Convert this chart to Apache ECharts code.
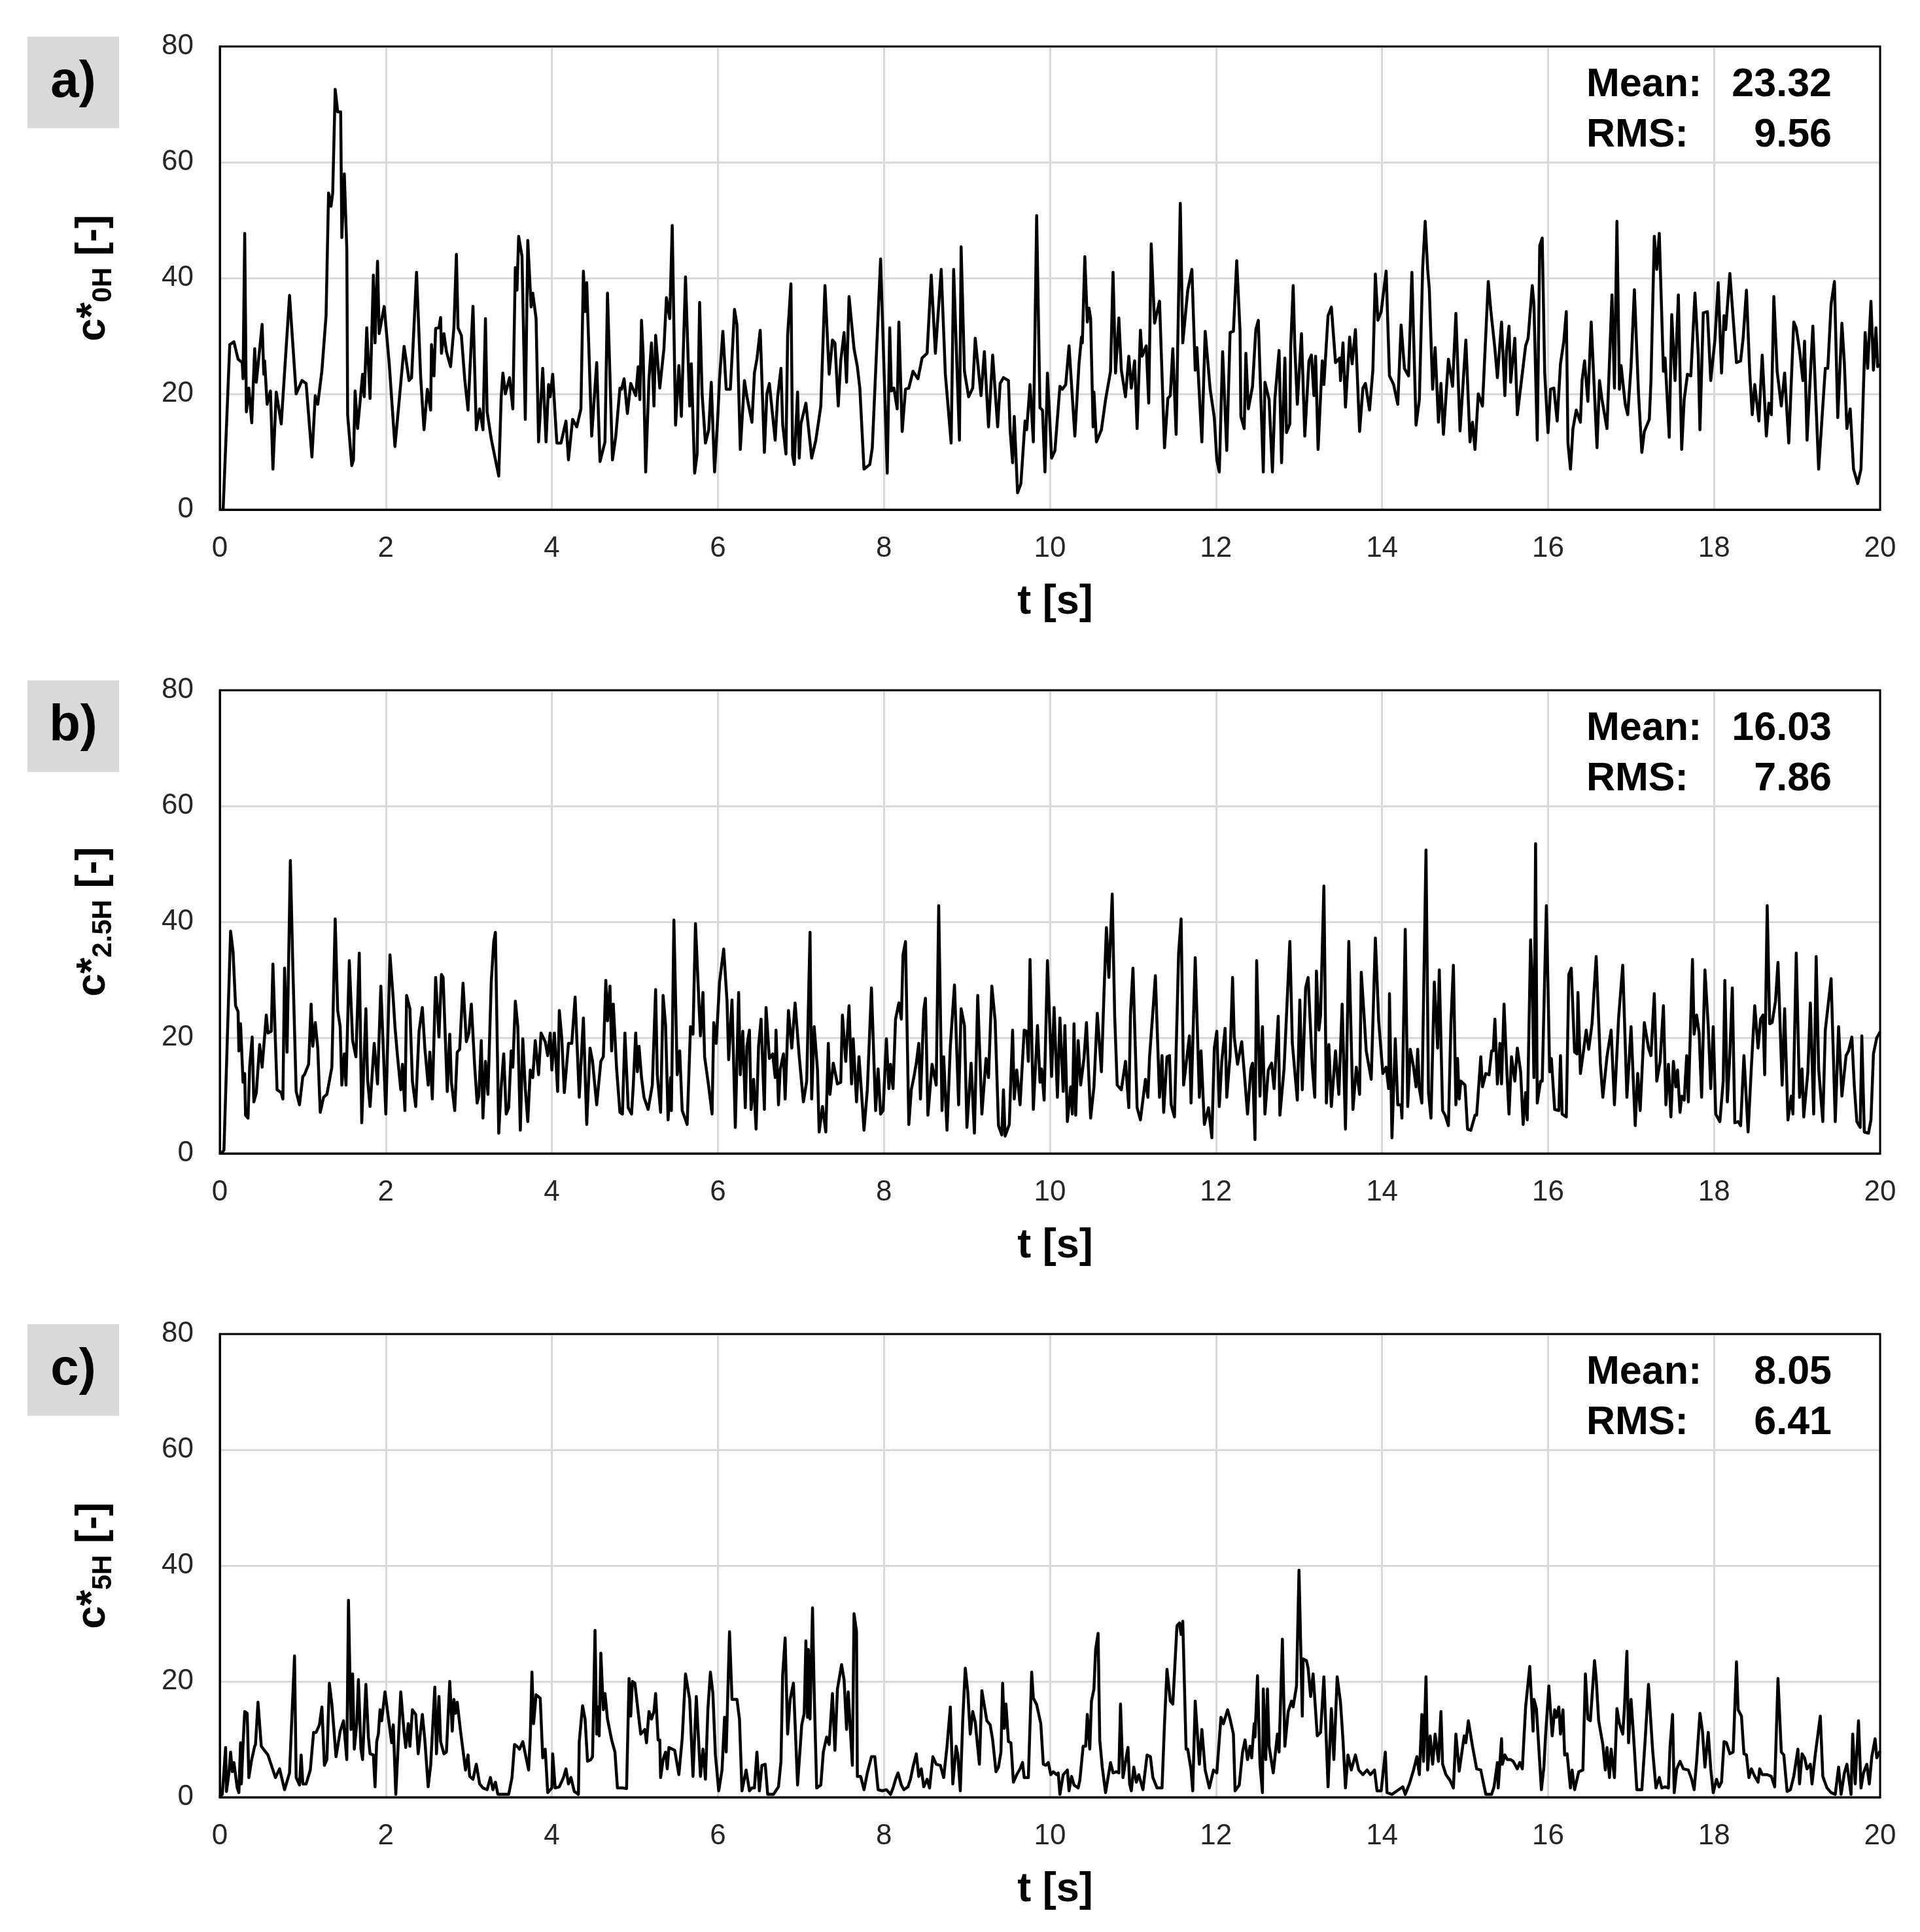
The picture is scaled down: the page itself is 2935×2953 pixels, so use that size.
<!DOCTYPE html>
<html><head><meta charset="utf-8">
<script src="https://cdn.jsdelivr.net/npm/echarts@6/dist/echarts.min.js"></script>
<style>html,body{margin:0;padding:0;background:#fff}#c{width:2935px;height:2953px}</style>
</head><body><div id="c"></div>
<script>
// ---- data: [t (s), c* (-)] ----
const pointsA = [[0,0],[0.04,0],[0.12,28.5],[0.17,29],[0.22,26],[0.27,25.4],[0.28,22.6],[0.30,47.7],[0.32,16.9],[0.35,21],[0.385,15],[0.42,27.8],[0.44,22],[0.51,32],[0.53,23.4],[0.54,25.7],[0.57,18.2],[0.61,20.5],[0.64,7],[0.68,20.3],[0.74,14.8],[0.84,37],[0.92,20],[0.99,22.3],[1.04,21.8],[1.11,9.1],[1.15,19.7],[1.18,18.2],[1.23,24],[1.28,33.5],[1.31,54.7],[1.34,52.4],[1.36,54.7],[1.39,72.6],[1.42,68.7],[1.456,68.7],[1.47,47],[1.50,58],[1.53,45],[1.54,16.4],[1.59,7.6],[1.61,8.6],[1.63,20.5],[1.66,14],[1.72,23.4],[1.74,19.5],[1.77,31.4],[1.81,19.2],[1.85,40.5],[1.87,28.8],[1.90,42.9],[1.92,30.4],[1.98,35.1],
[2.04,25.4],[2.11,10.9],[2.16,18.7],[2.22,28.2],[2.28,22.3],[2.31,22.8],[2.37,41],[2.42,22.8],[2.46,13.8],[2.50,20.8],[2.54,17.2],[2.55,28.5],[2.58,23.1],[2.60,31.3],[2.64,31.4],[2.66,33.2],[2.67,27],[2.70,30.4],[2.73,27.3],[2.78,24.7],[2.82,31.4],[2.85,44.1],[2.87,31.4],[2.91,30.1],[2.95,22.6],[2.99,17.2],[3.05,35.1],[3.09,13.8],[3.13,17.4],[3.17,13.8],[3.20,33],[3.22,16.9],[3.27,12.2],[3.36,5.8],[3.39,19.5],[3.41,23.6],[3.44,20],[3.49,22.8],[3.53,17.4],[3.56,41.8],[3.58,37.9],[3.60,47.2],[3.64,43.8],[3.68,15.6],[3.71,46.5],[3.75,35],[3.77,37.4],[3.81,33],[3.84,11.7],[3.89,24.4],[3.93,11.7],[3.96,21.6],[3.98,19.5],
[4.01,23.4],[4.06,11.5],[4.11,11.5],[4.17,15.3],[4.20,8.6],[4.25,15.6],[4.30,14.3],[4.35,17.4],[4.38,41.2],[4.40,34.2],[4.42,39.2],[4.48,12.7],[4.54,25.4],[4.58,8.3],[4.64,11.7],[4.67,37.4],[4.73,8.6],[4.77,12.7],[4.82,21],[4.84,20.8],[4.87,22.6],[4.91,16.6],[4.95,21.8],[5.01,19.7],[5.04,24.7],[5.06,19],[5.08,32.7],[5.10,26.7],[5.13,6.5],[5.17,22.6],[5.20,28.8],[5.23,17.9],[5.25,30.1],[5.30,21],[5.35,27.8],[5.38,36.6],[5.42,33],[5.45,49.1],[5.49,14.6],[5.53,24.9],[5.56,16.1],[5.61,40.2],[5.66,17.9],[5.68,25.2],[5.72,6.3],[5.75,9.6],[5.78,35.8],[5.81,20],[5.85,11.5],[5.89,13.8],[5.92,22],[5.96,6.5],
[6.00,16.4],[6.02,22.6],[6.06,30.8],[6.10,20.8],[6.15,20.8],[6.20,34.6],[6.23,31.9],[6.27,10.4],[6.32,22.3],[6.35,19.5],[6.41,15.1],[6.44,23.6],[6.47,26],[6.51,31],[6.56,9.9],[6.59,20],[6.62,21.8],[6.69,12],[6.72,19.5],[6.76,24.4],[6.78,14.8],[6.82,9.6],[6.84,30.1],[6.88,39],[6.90,9.4],[6.92,7.8],[6.96,20.3],[6.98,8.9],[7.00,14.8],[7.06,18.4],[7.13,8.9],[7.18,12],[7.24,17.9],[7.29,38.7],[7.34,23.4],[7.38,29.3],[7.41,28.8],[7.45,17.9],[7.48,25.7],[7.52,30.6],[7.55,22],[7.58,36.8],[7.64,27.8],[7.68,24.7],[7.71,21],[7.76,7],[7.83,7.8],[7.86,10.7],[7.96,43.3],
[8.04,6.3],[8.07,31.4],[8.09,20.5],[8.12,21],[8.16,17.4],[8.18,32.4],[8.22,13.5],[8.26,20.8],[8.30,21],[8.35,23.9],[8.41,22.6],[8.46,26.2],[8.52,27],[8.57,40.5],[8.62,27],[8.69,41.5],[8.74,23.4],[8.81,11.5],[8.84,41.5],[8.91,12],[8.93,45.4],[8.97,23.9],[9.02,19.5],[9.07,21],[9.10,29.6],[9.17,19.7],[9.21,27.3],[9.26,14.3],[9.31,26.7],[9.37,14.3],[9.40,21.8],[9.44,22.8],[9.50,22.3],[9.52,13.8],[9.55,8.1],[9.57,16.1],[9.61,2.9],[9.65,4.5],[9.70,15.3],[9.72,13.8],[9.76,21.6],[9.80,11.7],[9.84,50.8],[9.88,17.6],[9.91,17.2],[9.94,6.5],[9.97,23.6],
[10.02,8.9],[10.06,10.2],[10.12,21.3],[10.15,20.8],[10.19,21.6],[10.23,28.3],[10.30,12.7],[10.35,25.2],[10.38,29.8],[10.39,28.8],[10.42,43.7],[10.45,32.4],[10.47,34.8],[10.49,33],[10.52,14.3],[10.53,20.3],[10.56,11.7],[10.62,13.8],[10.67,19],[10.73,23.9],[10.76,41],[10.79,23.6],[10.83,33.1],[10.86,24.1],[10.91,19.5],[10.95,26.5],[10.98,21],[11.02,25.7],[11.05,14],[11.09,31],[11.11,26.5],[11.16,28.3],[11.19,18.4],[11.22,45.9],[11.26,32.2],[11.32,36],[11.38,10.7],[11.42,19.2],[11.45,19.7],[11.48,27.8],[11.52,13],[11.57,52.9],[11.60,28.8],[11.66,37.9],[11.71,41.5],[11.75,24.1],[11.77,28],[11.83,11.7],[11.87,30.8],[11.93,20.8],[11.98,15.9],
[12.01,8.6],[12.04,6.5],[12.08,27.3],[12.13,10.2],[12.17,30.6],[12.21,30.8],[12.25,43],[12.29,30.8],[12.30,16.1],[12.34,14],[12.36,27],[12.39,17.4],[12.44,21.3],[12.48,31.1],[12.51,32.7],[12.57,6.5],[12.59,22],[12.64,19],[12.68,6.5],[12.71,19.2],[12.76,27.5],[12.79,8.1],[12.83,26.2],[12.85,13.3],[12.89,14.8],[12.90,28],[12.93,38.7],[12.95,28],[12.98,18.2],[13.03,30.4],[13.07,12.7],[13.12,25.7],[13.15,26.7],[13.18,19.7],[13.20,26.5],[13.23,10.4],[13.28,25.7],[13.30,21.6],[13.35,33.5],[13.39,35],[13.44,25.4],[13.49,26.2],[13.50,22.3],[13.53,28.8],[13.56,17.7],[13.61,29.8],[13.64,25.2],[13.68,31.1],[13.73,13.5],[13.77,21],[13.80,21.8],[13.85,17.2],[13.89,24.1],[13.92,40.7],[13.95,32.7],[13.99,34.2],
[14.05,41.2],[14.09,23.1],[14.14,21.6],[14.19,18.2],[14.23,31.9],[14.27,24.4],[14.32,23.1],[14.36,41],[14.41,14.6],[14.45,19],[14.49,41.8],[14.52,49.8],[14.55,41.5],[14.57,38.1],[14.61,20.8],[14.64,28],[14.68,15.1],[14.71,21.8],[14.74,13],[14.80,26],[14.85,21.3],[14.89,33.9],[14.94,13.6],[15.01,29.3],[15.06,11.7],[15.09,15.1],[15.12,10.4],[15.16,20],[15.21,17.9],[15.28,39.4],[15.31,34.5],[15.36,27.8],[15.39,22.8],[15.44,32.4],[15.48,19.7],[15.50,27.5],[15.53,31.7],[15.55,22],[15.60,29.6],[15.63,16.4],[15.68,22.3],[15.73,28.3],[15.76,29.6],[15.81,38.7],[15.83,35.5],[15.87,12],[15.90,45.6],[15.93,46.9],[15.96,23.6],
[16.00,13.3],[16.03,20.8],[16.07,21],[16.11,15.3],[16.15,25.2],[16.19,29.1],[16.22,34.2],[16.24,11.5],[16.27,7],[16.30,14],[16.34,17.2],[16.39,15.1],[16.41,22.3],[16.44,25.7],[16.48,18.7],[16.52,32.4],[16.59,10.7],[16.62,22.3],[16.65,19],[16.71,14],[16.77,37.1],[16.80,21],[16.83,49.8],[16.86,20.8],[16.88,24.9],[16.93,18.2],[16.96,16.4],[17.00,24.7],[17.04,38],[17.09,20],[17.13,9.9],[17.16,13.5],[17.22,15.6],[17.24,22.3],[17.28,47.2],[17.31,41.5],[17.34,47.7],[17.39,23.9],[17.41,26.2],[17.46,12.5],[17.49,33.7],[17.53,22.3],[17.57,37.1],[17.61,10.4],[17.64,19],[17.68,23.4],[17.72,23.1],[17.77,37.4],[17.81,26.7],[17.83,13.8],[17.87,34],[17.92,34.2],[17.96,22.3],
[18.01,29.3],[18.05,39.2],[18.09,23.6],[18.12,33.5],[18.14,31.1],[18.19,40.8],[18.27,25.4],[18.32,25.7],[18.35,29.6],[18.39,37.9],[18.43,23.6],[18.46,16.4],[18.49,21.6],[18.54,15.3],[18.58,26.7],[18.63,12.7],[18.66,18.4],[18.69,16.4],[18.72,36.8],[18.76,23.9],[18.81,17.9],[18.85,23.6],[18.90,11.5],[18.96,32.4],[18.99,31.4],[19.03,27.5],[19.07,22.3],[19.09,29.1],[19.12,12],[19.19,31.7],[19.26,7],[19.34,24.4],[19.37,24.4],[19.41,35.5],[19.45,39.4],[19.49,15.9],[19.54,32.2],[19.57,25.2],[19.60,14],[19.64,17.4],[19.68,7],[19.73,4.5],[19.77,7],[19.82,30.6],[19.85,24.4],[19.89,36],[19.92,24.1],[19.95,31.4],[19.97,24.7],[20.00,25]];

const pointsB = [[0,0],[0.02,0],[0.05,0.6],[0.13,38.4],[0.16,34.8],[0.19,25.5],[0.22,24.5],[0.23,17.7],[0.25,22.4],[0.28,12.3],[0.30,13.8],[0.31,6.6],[0.34,6.1],[0.36,15.1],[0.39,20.1],[0.41,8.9],[0.44,10.5],[0.48,18.8],[0.51,14.9],[0.56,23.9],[0.58,20.8],[0.62,21.1],[0.64,32.7],[0.67,19.3],[0.69,11],[0.74,10.5],[0.76,9.4],[0.78,32],[0.81,17.5],[0.85,50.6],[0.88,32.2],[0.92,10.7],[0.96,8.4],[1.00,13.3],[1.02,13.6],[1.07,15.4],[1.10,25.8],[1.12,18.5],[1.15,22.6],[1.18,18.2],[1.21,7.1],[1.25,9.7],[1.29,10.2],[1.35,14.9],[1.39,40.5],[1.42,24.7],[1.45,21.9],[1.47,11.8],[1.50,17.2],[1.52,11.8],[1.56,33.3],[1.60,19.5],[1.64,16.7],[1.68,34.6],[1.71,5.3],[1.76,25],[1.78,12.8],[1.81,8.1],[1.86,19],[1.90,12],[1.94,28.9],
[2.00,6.8],[2.05,34.3],[2.09,26.5],[2.11,21.9],[2.14,16.9],[2.18,11],[2.20,15.4],[2.23,7.4],[2.25,27.3],[2.29,25],[2.32,12.5],[2.36,8.1],[2.40,21.1],[2.44,25.2],[2.47,18.2],[2.51,11.8],[2.53,17.5],[2.56,9.4],[2.60,30.4],[2.64,20.1],[2.67,30.9],[2.69,30.4],[2.74,10.7],[2.77,20.6],[2.79,12.3],[2.83,7.4],[2.86,17.5],[2.89,18],[2.93,29.4],[2.97,19.3],[3.00,20.8],[3.03,25.8],[3.07,15.1],[3.10,8.7],[3.12,9.9],[3.15,19.5],[3.17,6.1],[3.20,15.9],[3.23,10.2],[3.27,29.6],[3.30,36.6],[3.32,38.2],[3.36,3.5],[3.39,11.5],[3.42,17.2],[3.45,6.8],[3.48,7.9],[3.51,17.7],[3.53,14.9],[3.56,26.3],[3.59,21.9],[3.62,4],[3.65,19.8],[3.68,11.2],[3.71,5.5],[3.74,14.4],[3.77,13.1],[3.80,19.5],[3.84,13.6],[3.87,20.8],[3.92,19.3],[3.95,16.9],[3.98,20.8],
[4.00,14.4],[4.03,20.8],[4.07,10.7],[4.09,24.7],[4.12,19.8],[4.15,10.5],[4.20,19],[4.24,19],[4.28,27],[4.33,9.7],[4.38,23.4],[4.42,5],[4.46,18.2],[4.49,15.9],[4.54,8.4],[4.59,15.9],[4.62,16.7],[4.65,29.9],[4.67,22.9],[4.70,28.9],[4.72,17.7],[4.74,25.8],[4.78,14.6],[4.82,7.1],[4.85,6.8],[4.88,20.8],[4.92,7.9],[4.96,6.8],[4.98,11.5],[5.01,20.8],[5.03,14.1],[5.05,18.5],[5.08,13.1],[5.11,9.7],[5.16,7.6],[5.21,11.8],[5.25,28.3],[5.27,13.6],[5.31,7.1],[5.34,27.3],[5.37,22.1],[5.40,5.8],[5.43,13.1],[5.44,7.4],[5.47,40.3],[5.51,13.6],[5.54,17.7],[5.57,7.4],[5.63,5],[5.67,21.9],[5.70,20.6],[5.73,39.7],[5.77,26.5],[5.79,20.3],[5.82,27.8],[5.84,16.7],[5.89,11.5],[5.93,6.8],[5.95,22.6],[5.98,19],
[6.02,29.6],[6.07,35.3],[6.11,26.3],[6.13,16.2],[6.17,26.5],[6.21,4.5],[6.25,27.8],[6.27,13.6],[6.30,21.1],[6.33,7.9],[6.35,18.5],[6.38,21.3],[6.40,7.6],[6.43,12.8],[6.46,4.2],[6.49,18.5],[6.52,23.2],[6.56,7.6],[6.58,25.2],[6.62,16.4],[6.66,17.2],[6.69,13.1],[6.70,21.3],[6.73,8.4],[6.75,14.4],[6.79,17.2],[6.81,9.4],[6.85,24.7],[6.89,18.2],[6.93,26],[6.98,16.7],[7.03,8.9],[7.07,12.5],[7.11,38.2],[7.13,9.4],[7.16,21.9],[7.20,14.4],[7.22,3.7],[7.26,8.1],[7.30,3.7],[7.33,19],[7.35,10.2],[7.39,15.6],[7.44,12],[7.48,12.3],[7.50,23.9],[7.54,15.9],[7.58,25.5],[7.61,12],[7.63,19.8],[7.67,8.9],[7.70,16.7],[7.74,8.4],[7.76,4],[7.80,11],[7.85,28.6],[7.90,7.4],[7.93,14.6],[7.96,6.8],[7.99,7.4],
[8.03,19.8],[8.06,11.2],[8.08,15.4],[8.11,11.2],[8.14,23.2],[8.18,26],[8.21,23.2],[8.23,34.3],[8.26,36.6],[8.30,5],[8.33,11],[8.36,13.1],[8.39,15.6],[8.42,19],[8.44,9.4],[8.48,24.7],[8.50,26.8],[8.53,6.6],[8.58,15.4],[8.63,11.8],[8.66,42.8],[8.70,7.4],[8.72,16.7],[8.76,4],[8.80,18.5],[8.85,29.1],[8.90,8.4],[8.93,25],[8.97,22.1],[9.00,4.5],[9.05,15.6],[9.09,3.5],[9.13,27.3],[9.18,6.8],[9.23,16.4],[9.26,13.1],[9.30,28.9],[9.34,22.9],[9.38,4.8],[9.42,3.2],[9.44,11],[9.46,3],[9.51,5],[9.55,21.3],[9.57,9.4],[9.60,14.4],[9.64,8.4],[9.69,21.3],[9.72,21.1],[9.74,15.9],[9.76,33.5],[9.80,7.6],[9.85,22.1],[9.88,12.3],[9.90,14.6],[9.93,9.2],[9.97,33.3],
[10.02,13.3],[10.05,25.2],[10.09,9.7],[10.12,23.4],[10.16,10.7],[10.18,22.1],[10.21,5.5],[10.25,11.5],[10.27,6.8],[10.29,22.4],[10.31,6.6],[10.34,19.5],[10.37,11.8],[10.41,16.4],[10.44,22.6],[10.49,6.1],[10.53,11.5],[10.57,24.2],[10.62,14.1],[10.65,27.3],[10.68,39],[10.71,30.4],[10.75,44.8],[10.78,23.7],[10.81,11.8],[10.86,11],[10.91,15.9],[10.95,7.9],[10.97,23.9],[11.00,32],[11.05,7.9],[11.09,5.8],[11.15,12.8],[11.18,9.7],[11.20,16.7],[11.24,24.5],[11.27,30.7],[11.32,9.7],[11.35,16.9],[11.37,7.1],[11.41,16.7],[11.44,16.9],[11.46,8.4],[11.50,6.3],[11.55,34.6],[11.58,40.5],[11.61,11.8],[11.64,15.4],[11.68,20.3],[11.70,8.7],[11.75,33.8],[11.80,9.7],[11.82,17.7],[11.86,5],[11.91,7.9],[11.95,2.7],[11.98,18.2],
[12.01,21.1],[12.04,8.1],[12.07,15.9],[12.11,21.6],[12.13,9.7],[12.17,16.9],[12.20,30.4],[12.22,20.1],[12.26,15.4],[12.31,19.3],[12.34,14.1],[12.38,6.8],[12.42,14.6],[12.44,15.6],[12.47,2.4],[12.49,33.3],[12.53,9.9],[12.56,21.9],[12.59,6.8],[12.63,14.4],[12.67,15.6],[12.70,11.2],[12.75,23.7],[12.77,6.6],[12.82,14.6],[12.89,36.6],[12.92,19],[12.98,9.2],[13.01,26.5],[13.04,11],[13.08,28.6],[13.11,30.4],[13.16,15.1],[13.19,9.7],[13.21,31.5],[13.24,21.3],[13.26,23.9],[13.30,46.2],[13.33,8.7],[13.36,18.8],[13.39,8.1],[13.44,17.7],[13.48,10.2],[13.52,25.8],[13.56,4.2],[13.60,36.6],[13.65,7.6],[13.69,14.9],[13.73,10.2],[13.75,31.3],[13.78,24.7],[13.81,17.7],[13.87,12.8],[13.92,37.2],[13.96,22.9],
[14.01,13.8],[14.05,14.9],[14.08,11.2],[14.09,27.6],[14.12,2.7],[14.16,19.8],[14.19,8.4],[14.23,8.4],[14.24,6.1],[14.28,38.7],[14.31,8.1],[14.34,18],[14.38,14.9],[14.41,11.5],[14.43,18],[14.45,11.2],[14.48,8.7],[14.53,52.4],[14.56,10.5],[14.59,6.1],[14.63,29.6],[14.67,18.2],[14.69,31.7],[14.73,7.4],[14.76,6.6],[14.80,4.8],[14.83,22.4],[14.86,32.5],[14.89,8.4],[14.91,16.4],[14.93,9.4],[14.95,12.5],[15.00,11.8],[15.03,4.2],[15.07,4],[15.12,6.6],[15.14,6.6],[15.19,16.7],[15.21,11.5],[15.25,13.8],[15.29,13.6],[15.32,17.7],[15.34,17.7],[15.36,23.2],[15.39,12],[15.42,19],[15.44,12],[15.47,25.8],[15.50,15.4],[15.53,6.8],[15.56,16.7],[15.60,12.5],[15.63,18.2],[15.67,14.1],[15.70,5],[15.73,10.5],[15.75,5.8],[15.79,36.9],[15.81,29.6],[15.83,13.1],[15.85,53.5],[15.87,8.7],[15.91,12.5],[15.93,12.5],[15.98,42.8],
[16.02,14.1],[16.04,16.4],[16.08,7.6],[16.13,7.4],[16.15,16.9],[16.17,6.8],[16.22,6.3],[16.25,30.9],[16.28,32],[16.32,17.5],[16.35,17.2],[16.36,27.8],[16.39,13.8],[16.43,18],[16.46,21.3],[16.49,18],[16.53,22.4],[16.58,34],[16.63,15.6],[16.66,9.7],[16.71,16.7],[16.76,21.3],[16.80,8.4],[16.85,23.4],[16.90,32.5],[16.95,9.7],[16.97,14.4],[17.00,21.9],[17.05,4.8],[17.08,13.8],[17.11,7.4],[17.16,22.6],[17.21,18.2],[17.24,16.9],[17.28,27.6],[17.31,12.5],[17.35,15.9],[17.39,25.5],[17.42,8.4],[17.45,15.4],[17.48,6.3],[17.51,15.9],[17.54,11.5],[17.56,14.4],[17.59,7.1],[17.61,9.9],[17.64,9.2],[17.67,16.9],[17.69,8.9],[17.74,33.5],[17.76,20.6],[17.79,23.9],[17.82,20.8],[17.85,9.7],[17.89,31.7],[17.93,21.9],[17.96,11.2],[17.99,21.9],
[18.02,6.8],[18.07,5.5],[18.11,12.5],[18.13,29.9],[18.16,8.9],[18.19,17.2],[18.22,28.6],[18.25,5.3],[18.29,5.5],[18.32,4.8],[18.36,16.9],[18.41,3.7],[18.45,15.1],[18.49,25.5],[18.53,18.2],[18.56,23.2],[18.59,23.9],[18.61,13.6],[18.64,42.8],[18.67,22.4],[18.70,22.6],[18.74,26.3],[18.77,33],[18.82,11.8],[18.85,25],[18.89,5.8],[18.93,9.9],[18.95,6.8],[18.99,34.6],[19.03,9.7],[19.06,14.6],[19.08,6.3],[19.13,14.1],[19.16,26],[19.20,6.8],[19.23,34],[19.26,14.6],[19.31,5.5],[19.34,21.3],[19.41,30.2],[19.46,5.5],[19.50,21.9],[19.54,9.9],[19.59,16.9],[19.62,17.7],[19.66,20.1],[19.69,11.5],[19.72,5.5],[19.76,4.5],[19.78,20.3],[19.81,3.7],[19.86,3.5],[19.89,5.8],[19.92,17.2],[19.96,20],[20.00,21]];

const pointsC = [[0,0],[0.03,0.5],[0.07,8.6],[0.08,1],[0.11,4.2],[0.13,7.8],[0.15,4.4],[0.17,6],[0.21,1.6],[0.23,0.8],[0.25,9.4],[0.26,2.3],[0.28,9.1],[0.30,14.8],[0.33,14.5],[0.35,3.4],[0.38,6.2],[0.42,8.8],[0.43,9.1],[0.46,16.4],[0.50,8.8],[0.58,7.3],[0.67,3.4],[0.72,4.9],[0.78,1.3],[0.84,4.2],[0.90,24.4],[0.92,3.4],[0.96,2.1],[0.98,7.3],[1.00,2.3],[1.04,2.3],[1.09,4.7],[1.13,11.2],[1.16,11.2],[1.20,12.5],[1.23,15.6],[1.26,5.5],[1.29,6.5],[1.32,19.7],[1.35,16.1],[1.40,7],[1.45,11.4],[1.49,13.2],[1.53,6.5],[1.55,34],[1.58,11.7],[1.60,21.3],[1.62,8.3],[1.65,12.7],[1.67,20.3],[1.70,8.3],[1.72,6.5],[1.76,19.5],[1.79,10.4],[1.81,7.5],[1.85,7.3],[1.87,1.8],[1.89,9.6],[1.91,10.9],[1.93,15.1],[1.95,13.2],[1.99,18.2],
[2.04,12.7],[2.07,9.4],[2.09,12.5],[2.12,0.5],[2.18,18.2],[2.22,11.2],[2.24,8.6],[2.27,12.7],[2.29,8.8],[2.32,15.1],[2.36,14.3],[2.39,7.5],[2.44,14.3],[2.47,9.9],[2.51,1.8],[2.54,5.5],[2.59,19],[2.61,7.5],[2.64,17.4],[2.66,9.6],[2.70,7.5],[2.73,7.8],[2.77,20],[2.80,11.4],[2.82,16.9],[2.84,14.5],[2.86,16.4],[2.90,11.4],[2.96,4.7],[2.99,7.3],[3.01,3.6],[3.05,3.1],[3.09,5.7],[3.13,2.3],[3.17,1.6],[3.22,1.3],[3.26,3.4],[3.29,1.3],[3.32,2.6],[3.35,0.5],[3.42,0.5],[3.48,0.5],[3.52,3.4],[3.55,9.1],[3.58,8.8],[3.61,8.3],[3.65,9.6],[3.68,7.5],[3.72,4.7],[3.74,10.4],[3.76,21.6],[3.78,12.7],[3.81,17.7],[3.86,17.1],[3.89,6.8],[3.92,8.3],[3.95,0.8],
[4.00,1.6],[4.01,7.5],[4.04,1.6],[4.09,1.8],[4.14,3.4],[4.17,4.9],[4.20,2.3],[4.23,3.4],[4.27,1],[4.32,0.5],[4.33,9.6],[4.37,15.8],[4.40,13.5],[4.43,6.2],[4.47,6.5],[4.49,7],[4.52,28.8],[4.54,10.9],[4.56,15.6],[4.57,10.6],[4.59,24.9],[4.62,15.1],[4.64,17.9],[4.67,13.5],[4.72,9.9],[4.76,7.8],[4.79,1.6],[4.85,1.6],[4.90,1.5],[4.93,20.5],[4.95,14],[4.97,20],[5.00,19.7],[5.07,10.9],[5.12,11.7],[5.14,9.4],[5.17,14.8],[5.20,13.5],[5.23,14.8],[5.25,17.9],[5.28,9.9],[5.30,9.9],[5.31,3.4],[5.34,6.5],[5.37,7.8],[5.39,4.9],[5.41,8.6],[5.48,8.1],[5.53,3.9],[5.57,10.1],[5.61,21.3],[5.66,16.9],[5.70,3.6],[5.74,17.4],[5.79,3.6],[5.82,8.3],[5.85,3.1],[5.88,15.3],[5.91,21.6],[5.94,17.9],[5.97,7.3],
[6.01,1.1],[6.05,4.7],[6.08,13.8],[6.10,7.8],[6.14,28.6],[6.17,16.9],[6.23,16.9],[6.26,13.5],[6.29,1.1],[6.34,4.7],[6.38,1.1],[6.41,1.6],[6.44,1.6],[6.47,7.8],[6.50,1.1],[6.53,5.5],[6.57,5.7],[6.60,0.5],[6.67,0.5],[6.73,1.8],[6.76,6.2],[6.78,21],[6.81,27.5],[6.84,10.9],[6.87,16.9],[6.91,19.7],[6.96,2.1],[7.01,12.5],[7.04,14.5],[7.06,27],[7.08,13.8],[7.09,25.5],[7.11,13.5],[7.14,32.7],[7.16,18.2],[7.19,1.6],[7.24,2.1],[7.27,7.8],[7.31,10.4],[7.34,9.1],[7.38,17.9],[7.41,8.1],[7.44,18.7],[7.49,22.9],[7.52,20.3],[7.55,11.7],[7.57,18.2],[7.62,5.5],[7.64,31.7],[7.67,28.6],[7.68,3.6],[7.72,3.6],[7.76,1.3],[7.80,4.2],[7.85,7],[7.89,7],[7.93,1.3],[7.98,1.1],
[8.03,1.3],[8.08,0.5],[8.11,1.6],[8.14,3.1],[8.17,4.2],[8.21,2.1],[8.24,1.3],[8.29,1.8],[8.32,3.1],[8.35,5.2],[8.39,7.5],[8.42,3.6],[8.45,4.9],[8.48,1.8],[8.52,3.1],[8.55,1.6],[8.59,7],[8.63,5.7],[8.68,5.5],[8.72,3.4],[8.76,8.8],[8.80,15.6],[8.83,2.3],[8.87,8.8],[8.89,7.3],[8.92,1.1],[8.95,13.5],[8.98,22.3],[9.01,18.2],[9.04,10.9],[9.07,14.8],[9.10,13],[9.15,5.7],[9.18,18.4],[9.24,13.2],[9.28,12.5],[9.31,9.9],[9.35,4.4],[9.38,5.2],[9.41,7.8],[9.43,19.7],[9.45,11.9],[9.47,16.1],[9.50,9.6],[9.53,9.4],[9.56,2.6],[9.60,3.9],[9.64,4.9],[9.67,6],[9.69,3.4],[9.74,3.4],[9.78,21.6],[9.80,17.1],[9.84,16],[9.89,12.7],[9.92,5.7],[9.95,5.5],[9.98,6],
[10.01,3.9],[10.04,4.4],[10.08,3.9],[10.10,4.2],[10.12,0.5],[10.16,3.9],[10.21,4.7],[10.23,1.1],[10.26,3.6],[10.29,2.1],[10.34,1.6],[10.36,2.9],[10.40,8.8],[10.43,8.8],[10.45,14.3],[10.48,8.3],[10.50,16.6],[10.53,18.7],[10.55,25.5],[10.58,28.3],[10.60,9.9],[10.63,5.2],[10.67,0.8],[10.73,6],[10.76,4.2],[10.80,4.4],[10.83,4.2],[10.85,16.1],[10.88,3.4],[10.92,7],[10.94,8.6],[10.96,2.3],[10.98,1.1],[11.01,5.2],[11.04,2.6],[11.07,3.9],[11.12,1.3],[11.17,7.3],[11.21,7],[11.24,3.4],[11.29,1.6],[11.35,1.6],[11.38,12.7],[11.41,22.1],[11.45,16.6],[11.48,16.1],[11.53,29.6],[11.56,30.1],[11.58,28.1],[11.60,30.4],[11.64,8.3],[11.66,8.3],[11.70,4.7],[11.72,1.1],[11.75,16.6],[11.80,5.7],[11.83,11.7],[11.87,4.7],[11.92,1.6],[11.97,4.7],
[12.01,4.2],[12.06,13.8],[12.09,12.7],[12.14,15.1],[12.17,13.5],[12.21,10.9],[12.23,1.1],[12.28,2.1],[12.32,7.8],[12.35,9.9],[12.38,6.5],[12.41,8.8],[12.43,6.8],[12.46,12.7],[12.47,10.4],[12.50,21],[12.53,5.7],[12.56,0.8],[12.57,18.7],[12.60,6.5],[12.62,18.7],[12.64,8.8],[12.69,4.2],[12.74,10.9],[12.76,7.8],[12.80,27.3],[12.83,8.8],[12.87,14.8],[12.91,16.6],[12.93,15.6],[12.97,19.2],[13.00,39.2],[13.04,14],[13.05,23.9],[13.09,23.6],[13.11,22.3],[13.14,17.4],[13.17,21.3],[13.22,10.6],[13.26,11.2],[13.30,20.8],[13.35,1.8],[13.39,15.3],[13.42,6.5],[13.46,20.8],[13.50,16.4],[13.53,9.9],[13.56,1.6],[13.59,7.3],[13.63,4.7],[13.68,7.3],[13.72,4.7],[13.77,3.9],[13.82,4.7],[13.86,3.9],[13.91,4.7],[13.94,1.1],[13.99,1.1],
[14.04,7.8],[14.06,0.8],[14.12,0.5],[14.20,1.3],[14.25,1.8],[14.28,0.5],[14.33,2.3],[14.38,4.7],[14.42,7],[14.45,3.9],[14.48,14.3],[14.50,6.2],[14.53,20.8],[14.55,4.7],[14.58,10.6],[14.61,5.7],[14.64,10.9],[14.68,6.2],[14.71,14.8],[14.73,5.7],[14.77,3.9],[14.82,2.9],[14.86,1.6],[14.89,10.9],[14.93,4.5],[14.99,10.6],[15.01,9.4],[15.04,13.2],[15.09,8.8],[15.14,4.9],[15.19,4.7],[15.22,2.6],[15.25,0.5],[15.32,0.5],[15.35,1.8],[15.39,6],[15.40,1.6],[15.44,10.1],[15.45,5.7],[15.48,7.3],[15.51,6.5],[15.55,6.5],[15.58,6.2],[15.63,4.9],[15.66,6],[15.69,4.9],[15.73,15.6],[15.78,22.6],[15.82,11.4],[15.83,16.9],[15.86,15.3],[15.92,1.3],[15.95,5.2],[15.97,10.6],
[16.01,19.2],[16.05,10.6],[16.08,15.1],[16.10,13.8],[16.13,15.6],[16.15,10.9],[16.18,15.1],[16.20,7.3],[16.23,7.5],[16.27,1.6],[16.29,4.7],[16.32,1.3],[16.37,4.4],[16.42,4.7],[16.45,21.3],[16.48,13.5],[16.51,13.2],[16.56,23.6],[16.58,20.5],[16.61,13.2],[16.66,9.1],[16.69,4.7],[16.71,8.6],[16.74,3.4],[16.76,8.3],[16.80,3.4],[16.83,15.3],[16.86,12.7],[16.90,10.9],[16.92,15.3],[16.95,25.2],[16.97,9.4],[17.00,16.9],[17.03,10.6],[17.07,1.3],[17.13,1.3],[17.17,9.9],[17.21,19.5],[17.26,8.1],[17.30,1.6],[17.34,3.4],[17.37,1.6],[17.41,1.8],[17.45,1.6],[17.47,8.8],[17.50,14.3],[17.52,0.8],[17.55,4.9],[17.59,6.2],[17.63,4.9],[17.69,4.7],[17.73,3.1],[17.76,1.3],[17.79,6.2],[17.83,14.5],[17.86,11.4],[17.89,5.2],[17.93,11.2],[17.96,4.9],[17.99,0.8],
[18.03,3.1],[18.06,1.8],[18.09,2.6],[18.12,9.6],[18.15,9.4],[18.19,7.5],[18.23,7.8],[18.27,23.4],[18.29,15.1],[18.33,14],[18.36,7.5],[18.39,7.3],[18.42,3.4],[18.45,4.9],[18.49,3.6],[18.53,2.6],[18.55,4.9],[18.58,3.9],[18.64,3.9],[18.69,3.6],[18.73,1.8],[18.77,20.5],[18.81,7.8],[18.84,7.3],[18.88,1],[18.92,1.3],[18.96,3.6],[19.01,8.3],[19.03,2.3],[19.06,7.5],[19.09,6.8],[19.12,4.9],[19.16,5.7],[19.18,2.3],[19.22,7.5],[19.28,14],[19.31,3.6],[19.36,1.6],[19.41,0.8],[19.46,0.5],[19.50,5.2],[19.53,0.5],[19.57,4.2],[19.60,5.7],[19.65,0.5],[19.67,10.9],[19.70,2.3],[19.74,13.2],[19.77,1.6],[19.80,4.2],[19.84,5.7],[19.87,2.3],[19.90,7],[19.94,10.1],[19.96,6.8],[20.00,8]];

const panelLabels = ['a)', 'b)', 'c)'];
const yNameSubs = ['0H', '2.5H', '5H'];
const meanVals = ['23.32', '16.03', '8.05'];
const rmsVals = ['9.56', '7.86', '6.41'];
const xTitle = 't [s]';

// ---- layout ----
const FONT = '"Liberation Sans", Arial, Helvetica, sans-serif';
const GL = 336, GW = 2538, GH = 708;
const tops = [71, 1055, 2039];
const allPoints = [pointsA, pointsB, pointsC];

const grids = [], xAxes = [], yAxes = [], series = [], graphics = [];
tops.forEach((top, i) => {
  grids.push({ left: GL, top: top, width: GW, height: GH, show: false });
  xAxes.push({ gridIndex: i, type: 'value', min: 0, max: 20, interval: 2,
    axisLine: { show: true, lineStyle: { color: '#000', width: 3 } },
    axisTick: { show: false },
    axisLabel: { fontSize: 44, color: '#262626', fontFamily: FONT, margin: 38 },
    splitLine: { show: true, lineStyle: { color: '#d9d9d9', width: 3 } },
    name: xTitle, nameLocation: 'middle', nameGap: 110,
    nameTextStyle: { fontSize: 63, fontWeight: 'bold', color: '#000', fontFamily: FONT, padding: [0, 0, 0, 16] } });
  yAxes.push({ gridIndex: i, type: 'value', min: 0, max: 80, interval: 20,
    axisLine: { show: true, lineStyle: { color: '#000', width: 3 } },
    axisTick: { show: false },
    axisLabel: { fontSize: 44, color: '#262626', fontFamily: FONT, margin: 40 },
    splitLine: { show: true, lineStyle: { color: '#d9d9d9', width: 3 } },
    name: '{m|c*}{s|' + yNameSubs[i] + '}{m| [-]}',
    nameLocation: 'middle', nameRotate: 90, nameGap: 157,
    nameTextStyle: { color: '#000', fontFamily: FONT,
      rich: {
        m: { fontSize: 63, fontWeight: 'bold', fontFamily: FONT, color: '#000', lineHeight: 72, verticalAlign: 'middle' },
        s: { fontSize: 42, fontWeight: 'bold', fontFamily: FONT, color: '#000', lineHeight: 30, verticalAlign: 'bottom' }
      } } });
  series.push({ type: 'line', xAxisIndex: i, yAxisIndex: i, data: allPoints[i],
    showSymbol: false, symbol: 'none', smooth: false, z: 3,
    lineStyle: { color: '#000', width: 4.5, join: 'round' }, silent: true });

  // plot frame drawn on top of the grid lines
  graphics.push({ type: 'rect', shape: { x: GL, y: top, width: GW, height: GH },
    style: { fill: 'none', stroke: '#000', lineWidth: 3 }, z: 20, silent: true });
  // panel tag box
  graphics.push({ type: 'rect', shape: { x: 42, y: top - 15, width: 140, height: 140 },
    style: { fill: '#d9d9d9' }, z: 10 });
  graphics.push({ type: 'text', x: 112, y: top + 55, z: 11,
    style: { text: panelLabels[i], font: 'bold 78px ' + FONT, fill: '#000',
      align: 'center', verticalAlign: 'middle', textAlign: 'center', textVerticalAlign: 'middle' } });
  // stats
  const rows = [['Mean:', meanVals[i], top + 59], ['RMS:', rmsVals[i], top + 136]];
  rows.forEach(r => {
    graphics.push({ type: 'text', x: 2425, y: r[2], z: 11,
      style: { text: r[0], font: 'bold 61px ' + FONT, fill: '#000',
        align: 'left', verticalAlign: 'middle', textAlign: 'left', textVerticalAlign: 'middle' } });
    graphics.push({ type: 'text', x: 2800, y: r[2], z: 11,
      style: { text: r[1], font: 'bold 61px ' + FONT, fill: '#000',
        align: 'right', verticalAlign: 'middle', textAlign: 'right', textVerticalAlign: 'middle' } });
  });
});

const chart = echarts.init(document.getElementById('c'), null, { renderer: 'canvas' });
chart.setOption({
  animation: false,
  backgroundColor: '#fff',
  grid: grids, xAxis: xAxes, yAxis: yAxes, series: series, graphic: graphics
});
</script></body></html>
